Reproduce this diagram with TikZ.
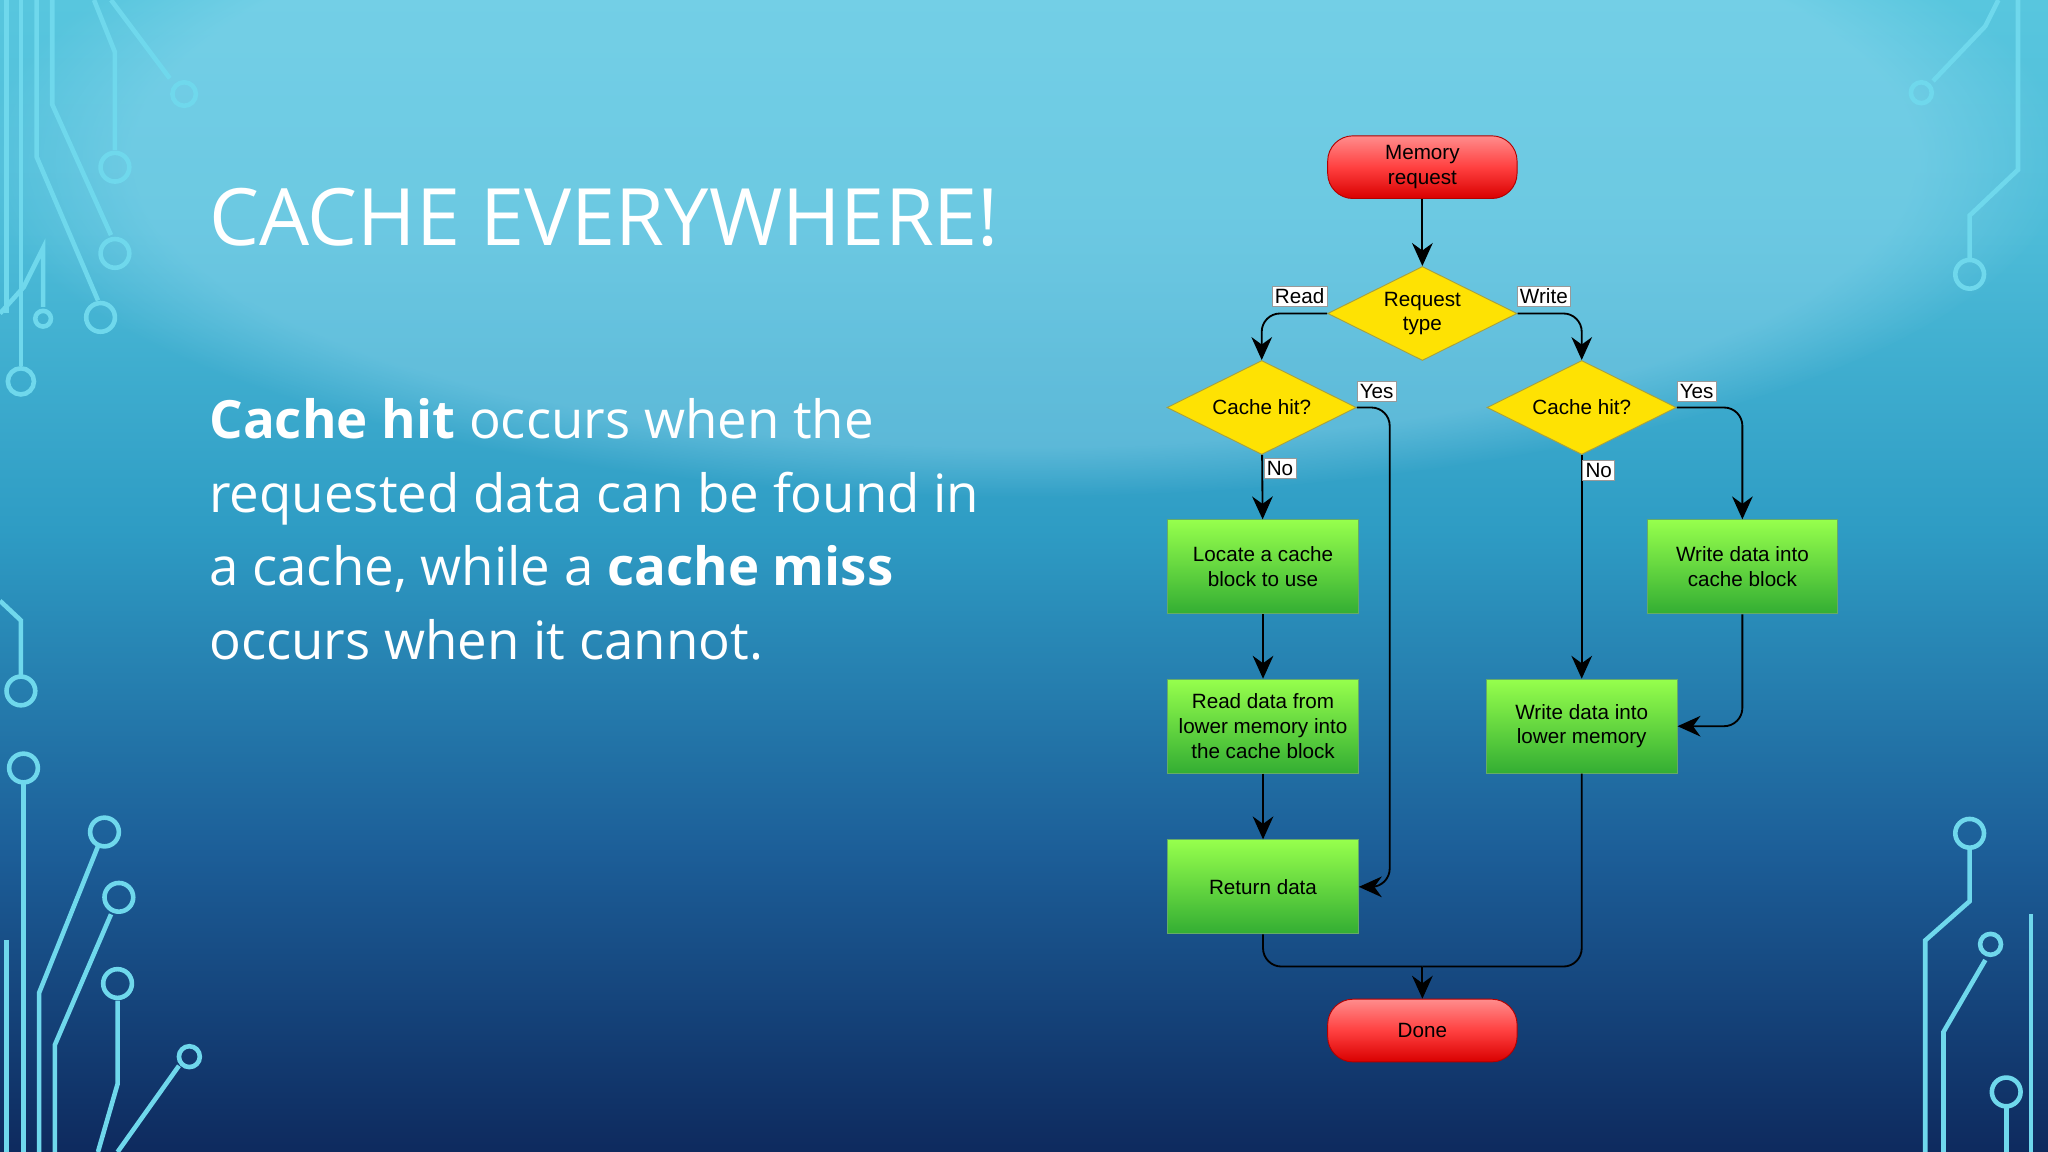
\documentclass[tikz,border=0pt]{standalone}
\usepackage{fontspec}
\setmainfont{Open Sans}
\newfontfamily\fcfont{Liberation Sans}
\usetikzlibrary{shapes.geometric,arrows.meta,fadings}
\definecolor{circ}{HTML}{6FD8EC}
\definecolor{bga}{HTML}{0E2A5E}
\definecolor{bgb}{HTML}{1C5E98}
\definecolor{bgc}{HTML}{2E9CC4}
\definecolor{bgd}{HTML}{4DBCD8}
\definecolor{bge}{HTML}{58C6DE}
\pgfdeclareverticalshading{bgsh}{100bp}{color(0bp)=(bga);color(25bp)=(bga);color(38bp)=(bgb);color(52bp)=(bgc);color(65bp)=(bgd);color(75bp)=(bge);color(100bp)=(bge)}
\begin{document}
\begin{tikzpicture}[x=0.02cm,y=-0.02cm,
  term/.style={draw=red!70!black,rounded corners=11pt,top color=red!45!white,bottom color=red!85!black,middle color=red!75,minimum width=145*0.02cm,minimum height=48*0.02cm,font=\fcfont\fontsize{9}{10.8}\selectfont,align=center},
  dec/.style={diamond,aspect=2,draw=yellow!60!black,fill=yellow!85!orange,inner sep=0pt,minimum width=145*0.02cm,minimum height=72*0.02cm,font=\fcfont\fontsize{9}{10.8}\selectfont,align=center},
  proc/.style={draw=green!45!black!60,top color=green!45!lime!70,bottom color=green!60!black!80,minimum width=146*0.02cm,minimum height=72*0.02cm,font=\fcfont\fontsize{9}{10.8}\selectfont,align=center},
  lab/.style={fill=white,draw=black!40,inner sep=1.2pt,font=\fcfont\fontsize{9}{10}\selectfont},
  arr/.style={-{Stealth[length=10pt,width=9pt]},line width=0.8pt,rounded corners=8pt},
  ln/.style={line width=0.8pt,rounded corners=8pt},
  cl/.style={circ,line width=2pt}]
\useasboundingbox (0,0) rectangle (1568,882);
\shade[shading=bgsh] (0,0) rectangle (1568,882);
\fill[cyan!30!white,opacity=0.3,path fading=circle with fuzzy edge 15 percent] (784,120) ellipse (800 and 260);
% circuits
\begin{scope}[cl]
\draw (5,0)--(5,240); \draw (16,0)--(16,280); \draw (16,292) circle (10);
\draw (28,0)--(28,120)--(75,230); \draw (77,243) circle (11);
\draw (40,0)--(40,80)--(85,180); \draw (88,194) circle (11);
\draw (72,0)--(88,40)--(88,115); \draw (88,128) circle (11);
\draw (85,0)--(130,60); \draw (141,72) circle (9);
\draw (0,240)--(18,220)--(33,190)--(33,235); \draw (33,244) circle (6);
\draw (0,460)--(16,475)--(16,517); \draw (16,529) circle (11);
\draw (18,600)--(18,882); \draw (18,588) circle (11);
\draw (5,720)--(5,882); \draw (30,882)--(30,760)--(75,648); \draw (80,637) circle (11);
\draw (42,882)--(42,800)--(85,700); \draw (91,687) circle (11);
\draw (75,882)--(90,830)--(90,766); \draw (90,753) circle (11);
\draw (90,882)--(137,816); \draw (145,809) circle (8);
\draw (1530,0)--(1520,20)--(1480,62); \draw (1471,71) circle (8);
\draw (1545,0)--(1545,130)--(1508,165)--(1508,198); \draw (1508,210) circle (11);
\draw (1474,882)--(1474,720)--(1508,690)--(1508,650); \draw (1508,638) circle (11);
\draw (1488,882)--(1488,790)--(1520,735); \draw (1524,723) circle (8);
\draw (1536,882)--(1536,848); \draw (1536,836) circle (11);
\draw (1555,882)--(1555,700);
\end{scope}
% text
\node[anchor=base west,white,font=\fontsize{34.5}{40}\selectfont,inner sep=0] (title) at (160,188) {CACHE EVERYWHERE!};
\node[anchor=north west,white,font=\fontsize{23}{32}\selectfont,inner sep=0,align=left] (body) at (160,305)
 {\textbf{Cache hit} occurs when the\\requested data can be found in\\a cache, while a \textbf{cache miss}\\occurs when it cannot.};
% flowchart
\node[term] (mem) at (1089,128) {Memory\\request};
\node[dec] (rt) at (1089,240) {Request\\type};
\node[dec] (chl) at (966,312) {Cache hit?};
\node[dec] (chr) at (1211,312) {Cache hit?};
\node[proc] (loc) at (967,434) {Locate a cache\\block to use};
\node[proc] (wcb) at (1334,434) {Write data into\\cache block};
\node[proc] (rd) at (967,556) {Read data from\\lower memory into\\the cache block};
\node[proc] (wlm) at (1211,556) {Write data into\\lower memory};
\node[proc] (ret) at (967,679) {Return data};
\node[term] (done) at (1089,789) {Done};
\coordinate (j) at (1089,740);
\draw[arr] (mem)--(rt);
\draw[arr] (rt.west)-|(chl.north);
\draw[arr] (rt.east)-|(chr.north);
\draw[arr] (chl.east)-|(1064,679)--(ret.east);
\draw[arr] (chl)--(loc);
\draw[arr] (loc)--(rd);
\draw[arr] (rd)--(ret);
\draw[arr] (chr)--(wlm);
\draw[arr] (chr.east)-|(wcb.north);
\draw[arr] (wcb.south)|-(wlm.east);
\draw[ln] (ret.south)|-(j);
\draw[ln] (wlm.south)|-(j);
\draw[arr,rounded corners=0] (j)--(done);
\node[lab] (l1) at (995,227) {Read};
\node[lab] (l2) at (1182,227) {Write};
\node[lab] (l3) at (1054,300) {Yes};
\node[lab] (l4) at (1299,300) {Yes};
\node[lab] (l5) at (980,359) {No};
\node[lab] (l6) at (1224,360) {No};
\end{tikzpicture}
\end{document}
